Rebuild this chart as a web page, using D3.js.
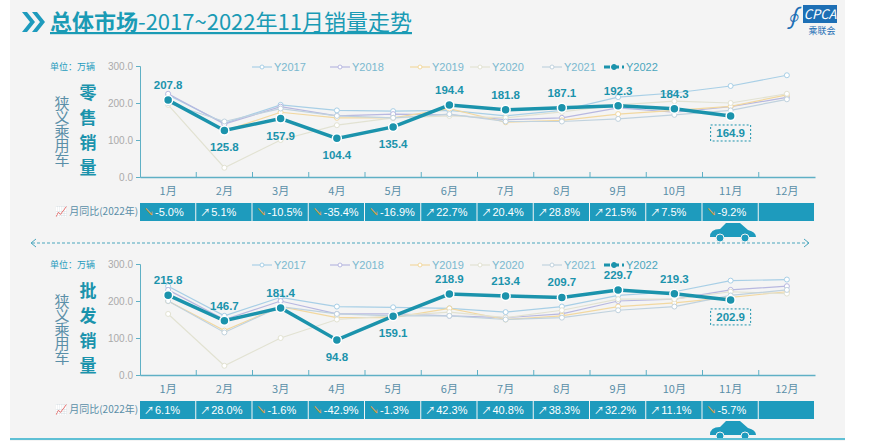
<!DOCTYPE html>
<html><head><meta charset="utf-8">
<script src="https://cdn.jsdelivr.net/npm/d3@7"></script>
<style>body{margin:0;background:#fff;font-family:"Noto Sans CJK SC",Arial,sans-serif}</style>
</head><body><svg id="chart" width="882" height="441"></svg>
<script>
const months = ["1月","2月","3月","4月","5月","6月","7月","8月","9月","10月","11月","12月"];
const years = ["Y2017","Y2018","Y2019","Y2020","Y2021","Y2022"];
const colors = ["#a8cfe6","#b8b8e0","#f2d8a0","#e2e2d2","#c0d2de","#1b93ac"];
const retail = [
  [222,145,195,180,178,180,165,180,216,227,246,275],
  [225,143,190,165,170,168,155,160,187,175,190,215],
  [210,125,175,160,160,185,148,153,170,180,191,222],
  [195,25,100,140,160,165,160,176,195,205,200,225],
  [200,150,185,165,160,170,150,150,157,168,180,210],
  [207.8,125.8,157.9,104.4,135.4,194.4,181.8,187.1,192.3,184.3,164.9]
];
const wholesale = [
  [240,160,210,185,183,180,170,185,215,225,255,258],
  [230,150,200,165,165,160,155,165,200,205,230,240],
  [200,120,185,155,155,180,150,160,185,195,210,225],
  [165,25,100,150,160,170,155,175,205,205,225,220],
  [200,115,185,165,160,160,150,155,175,185,215,230],
  [215.8,146.7,181.4,94.8,159.1,218.9,213.4,209.7,229.7,219.3,202.9]
];
// 1 = label under the point
const retailBelow = [0,1,1,1,1,0,0,0,0,0,1];
const wholesaleBelow = [0,0,0,1,1,0,0,0,0,0,1];
const retailYoy = [-5.0,5.1,-10.5,-35.4,-16.9,22.7,20.4,28.8,21.5,7.5,-9.2];
const wholesaleYoy = [6.1,28.0,-1.6,-42.9,-1.3,42.3,40.8,38.3,32.2,11.1,-5.7];
const yTicks = [0,100,200,300];

const svg = d3.select("#chart");
const teal = "#1b93ac";
svg.append("rect").attr("x",10).attr("y",0).attr("width",835).attr("height",441).attr("fill","#f4f4f4");

// title
svg.append("path").attr("d","M22,12 L30,22 L22,32 L27,32 L35,22 L27,12Z M32,12 L40,22 L32,32 L37,32 L45,22 L37,12Z").attr("fill","#1e9bbd");
const t = svg.append("text").attr("x",50).attr("y",30).attr("font-size",22).attr("fill","#1a9bb5").attr("text-decoration","underline");
t.append("tspan").attr("font-weight","bold").text("总体市场");
t.append("tspan").text("-2017~2022年11月销量走势");
// logo
svg.append("rect").attr("x",803).attr("y",5).attr("width",34).attr("height",18).attr("fill","#1d6fb5");
svg.append("text").attr("x",820).attr("y",19).attr("text-anchor","middle").attr("font-size",13).attr("font-style","italic").attr("fill","#fff").text("CPCA");
svg.append("text").attr("x",822).attr("y",34).attr("text-anchor","middle").attr("font-size",9).attr("fill","#1d6fb5").text("乘联会");
svg.append("text").attr("x",792).attr("y",27).attr("text-anchor","middle").attr("font-size",24).attr("font-style","italic").attr("fill","#1d6fb5").text("∮");

const x = d3.scaleBand().domain(months).range([140,815]);

function panel(top, data, below, yoy, name) {
  const y = d3.scaleLinear().domain([0,300]).range([top+111,top]);
  const g = svg.append("g");
  g.append("text").attr("x",50).attr("y",top+4).attr("font-size",9).attr("fill","#1e9bbd").text("单位：万辆");
  g.append("text").attr("x",62).attr("y",top+30).attr("font-size",15).attr("fill","#5a8fa8")
    .style("writing-mode","vertical-rl").style("letter-spacing","-1px").text("狭义乘用车");
  g.append("text").attr("x",88).attr("y",top+18).attr("font-size",17).attr("font-weight","bold").attr("fill",teal)
    .style("writing-mode","vertical-rl").style("letter-spacing","8px").text(name);
  const ya = g.append("g").attr("transform",`translate(140,0)`).call(d3.axisLeft(y).tickValues(yTicks).tickFormat(d3.format(".1f")).tickSize(4));
  ya.selectAll("text").attr("fill","#aaa").attr("font-size",10).attr("font-family","Arial");
  ya.selectAll("line,path").attr("stroke","#5fb0c5");
  const xa = g.append("g").attr("transform",`translate(0,${top+111})`).call(d3.axisBottom(x).tickValues([]).tickSizeOuter(0));
  xa.select("path").attr("stroke","#5fb0c5").attr("stroke-width",1.5);
  months.forEach((m,i)=>{
    if(i>0) g.append("line").attr("x1",x(m)).attr("x2",x(m)).attr("y1",top+111).attr("y2",top+106).attr("stroke","#5fb0c5");
    g.append("text").attr("x",x(m)+x.bandwidth()/2).attr("y",top+129).attr("text-anchor","middle").attr("font-size",11).attr("fill","#5a8fa8").text(m);
  });
  const line = d3.line().x((d,i)=>x(months[i])+x.bandwidth()/2).y(d=>y(d));
  data.forEach((s,k)=>{
    const last = k===5;
    g.append("path").datum(s).attr("d",line).attr("fill","none").attr("stroke",colors[k]).attr("stroke-width",last?3.5:1.2);
    g.selectAll(null).data(s).join("circle").attr("cx",(d,i)=>x(months[i])+x.bandwidth()/2).attr("cy",d=>y(d))
      .attr("r",last?4.5:2.5).attr("fill",last?teal:"#fff").attr("stroke",last?"#fff":colors[k]).attr("stroke-width",last?1.5:1);
  });
  const s22 = data[5];
  s22.forEach((v,i)=>{
    const cx = x(months[i])+x.bandwidth()/2;
    const ty = below[i] ? y(v)+21 : y(v)-11;
    g.append("text").attr("x",cx).attr("y",ty).attr("text-anchor","middle").attr("font-size",11.5).attr("font-weight","bold").attr("fill",teal).attr("font-family","Arial").text(v.toFixed(1));
    if(i===s22.length-1) g.append("rect").attr("x",cx-20).attr("y",ty-12).attr("width",40).attr("height",16).attr("fill","none").attr("stroke",teal).attr("stroke-dasharray","2,2");
  });
  // legend
  const lx = [252,330,410,470,542,604];
  years.forEach((yr,k)=>{
    const last=k===5;
    g.append("line").attr("x1",lx[k]).attr("x2",lx[k]+20).attr("y1",top+1).attr("y2",top+1).attr("stroke",colors[k]).attr("stroke-width",last?3:1.2).attr("stroke-dasharray",last?"6,3":null);
    g.append("circle").attr("cx",lx[k]+10).attr("cy",top+1).attr("r",last?2.5:2).attr("fill",last?teal:"#fff").attr("stroke",colors[k]);
    g.append("text").attr("x",lx[k]+22).attr("y",top+5).attr("font-size",11).attr("font-family","Arial").attr("fill",last?"#4aa6bd":"#7ab8cf").text(yr);
  });
  // yoy row
  const ry = top+137;
  g.append("text").attr("x",55).attr("y",ry+12).attr("font-size",10).attr("fill","#5a8fa8").text("📈 月同比(2022年)");
  months.forEach((m,i)=>{
    g.append("rect").attr("x",x(m)).attr("y",ry).attr("width",x.bandwidth()-1).attr("height",18).attr("fill","#1e9bbd");
    if(i<yoy.length){
      const v=yoy[i];
      g.append("text").attr("x",x(m)+4).attr("y",ry+13).attr("font-size",10).attr("fill",v<0?"#e0a040":"#fff").text(v<0?"↘":"↗");
      g.append("text").attr("x",x(m)+15).attr("y",ry+13).attr("font-size",11).attr("font-family","Arial").attr("fill","#fff").text((v>0?" ":"")+v.toFixed(1)+"%");
    }
  });
  // car
  const cx0 = 732, cy0 = ry+28;
  g.append("path").attr("d",`M${cx0-22},${cy0+6} Q${cx0-22},${cy0-2} ${cx0-12},${cy0-2} L${cx0-6},${cy0-8} L${cx0+8},${cy0-8} L${cx0+16},${cy0-1} Q${cx0+24},${cy0+1} ${cx0+24},${cy0+6}Z`).attr("fill","#1e9bbd");
  [cx0-12,cx0+13].forEach(c=>g.append("circle").attr("cx",c).attr("cy",cy0+7).attr("r",4).attr("fill","#1e9bbd").attr("stroke","#f4f4f4"));
}
panel(66, retail, retailBelow, retailYoy, "零售销量");
panel(264, wholesale, wholesaleBelow, wholesaleYoy, "批发销量");

svg.append("line").attr("x1",32).attr("x2",808).attr("y1",243).attr("y2",243).attr("stroke","#4aa6bd").attr("stroke-dasharray","3,2");
svg.append("path").attr("d","M36,239 L31,243 L36,247 M804,239 L809,243 L804,247").attr("fill","none").attr("stroke","#4aa6bd");
svg.append("line").attr("x1",10).attr("x2",845).attr("y1",439).attr("y2",439).attr("stroke","#5fc0d5").attr("stroke-width",2);
</script></body></html>
